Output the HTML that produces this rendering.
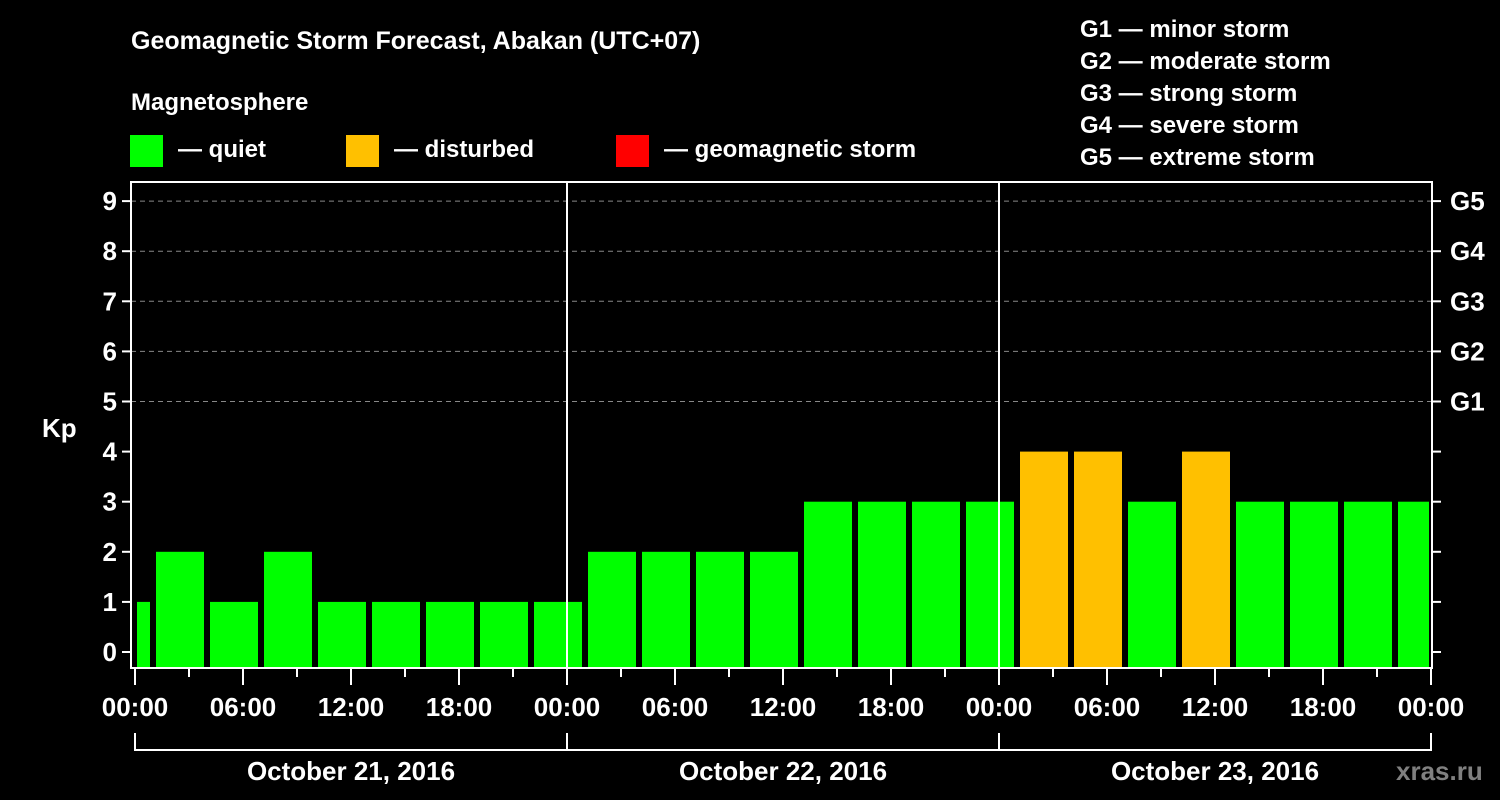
<!DOCTYPE html>
<html><head><meta charset="utf-8"><style>
html,body{margin:0;padding:0;background:#000;}
svg{display:block;font-family:"Liberation Sans",Arial,sans-serif;font-weight:bold;}
</style></head><body>
<svg id="chart" width="1500" height="800" viewBox="0 0 1500 800">
<rect x="0" y="0" width="1500" height="800" fill="#000"/>
<text x="131" y="49" fill="#fff" font-size="25">Geomagnetic Storm Forecast, Abakan (UTC+07)</text>
<text x="131" y="110" fill="#fff" font-size="24">Magnetosphere</text>
<g><rect x="130" y="135" width="33" height="32" fill="#00ff00"/><text x="178" y="157" fill="#fff" font-size="24">— quiet</text></g>
<g><rect x="346" y="135" width="33" height="32" fill="#ffc000"/><text x="394" y="157" fill="#fff" font-size="24">— disturbed</text></g>
<g><rect x="616" y="135" width="33" height="32" fill="#ff0000"/><text x="664" y="157" fill="#fff" font-size="24">— geomagnetic storm</text></g>
<g fill="#fff" font-size="24">
<text x="1080" y="37">G1 — minor storm</text>
<text x="1080" y="69">G2 — moderate storm</text>
<text x="1080" y="101">G3 — strong storm</text>
<text x="1080" y="133">G4 — severe storm</text>
<text x="1080" y="165">G5 — extreme storm</text>
</g>
<text x="42" y="437" fill="#fff" font-size="26">Kp</text>
<text x="1396" y="780" fill="#808080" font-size="26">xras.ru</text>
<g id="grid"></g><g id="bars"></g><g id="axes"></g>
</svg>
<script>
const kpValues=[1,2,1,2,1,1,1,1,1,2,2,2,2,3,3,3,3,4,4,3,4,3,3,3,3];
const yTicks=[0,1,2,3,4,5,6,7,8,9];
const gLabels=["G1","G2","G3","G4","G5"];
const hourLabels=["00:00","06:00","12:00","18:00","00:00","06:00","12:00","18:00","00:00","06:00","12:00","18:00","00:00"];
const dayLabels=["October 21, 2016","October 22, 2016","October 23, 2016"];
const NS="http://www.w3.org/2000/svg";
const X0=135,DAY=432,L=131,R=1432,T=182,B=668;
const xH=h=>X0+h*DAY/24;
const yK=v=>652-v*50.1;
function mk(tag,attrs,parent){const e=document.createElementNS(NS,tag);for(const k in attrs)e.setAttribute(k,attrs[k]);document.getElementById(parent).appendChild(e);return e;}
// grid
for(let v=5;v<=9;v++){const l=mk('line',{x1:L,x2:R,y1:yK(v),y2:yK(v),stroke:'#888','stroke-width':1,'stroke-dasharray':'5,4'},'grid');

}
// bars: slot k starts at hour (k*3+0.833)
kpValues.forEach((v,i)=>{const k=i-1;let x1=xH(k*3+15/18)+6,x2=xH(k*3+3+15/18);x1=Math.max(x1,X0+2);x2=Math.min(x2,R-3);
const r=mk('rect',{x:x1,y:yK(v),width:x2-x1,height:B-yK(v),fill:v>=5?'#ff0000':(v>=4?'#ffc000':'#00ff00')},'bars');

});
// frame
const f=mk('rect',{x:L,y:T,width:R-L,height:B-T,fill:'none',stroke:'#fff','stroke-width':2},'axes');


[1,2].forEach(d=>{const l=mk('line',{x1:xH(d*24),x2:xH(d*24),y1:T,y2:B,stroke:'#fff','stroke-width':2},'axes');

});
yTicks.forEach(v=>{const y=yK(v);
mk('line',{x1:L-9,x2:L,y1:y,y2:y,stroke:'#fff','stroke-width':2},'axes');
mk('line',{x1:R,x2:R+9,y1:y,y2:y,stroke:'#fff','stroke-width':2},'axes');
const t=mk('text',{x:117,y:y+9,fill:'#fff','font-size':26,'text-anchor':'end'},'axes');t.textContent=v;


if(v>=5){const g=mk('text',{x:1450,y:y+9,fill:'#fff','font-size':26},'axes');g.textContent=gLabels[v-5];

}});
for(let h=0;h<=72;h+=3){const long=h%6===0;mk('line',{x1:xH(h),x2:xH(h),y1:B,y2:long?685:677,stroke:'#fff','stroke-width':2},'axes');}
hourLabels.forEach((s,i)=>{const t=mk('text',{x:xH(i*6),y:716,fill:'#fff','font-size':26,'text-anchor':'middle'},'axes');t.textContent=s;

});
mk('line',{x1:X0,x2:xH(72),y1:750,y2:750,stroke:'#fff','stroke-width':2},'axes');
for(let d=0;d<=3;d++)mk('line',{x1:xH(d*24),x2:xH(d*24),y1:733,y2:751,stroke:'#fff','stroke-width':2},'axes');
dayLabels.forEach((s,i)=>{const t=mk('text',{x:xH(i*24+12),y:780,fill:'#fff','font-size':26,'text-anchor':'middle'},'axes');t.textContent=s;

});
</script>
</body></html>
